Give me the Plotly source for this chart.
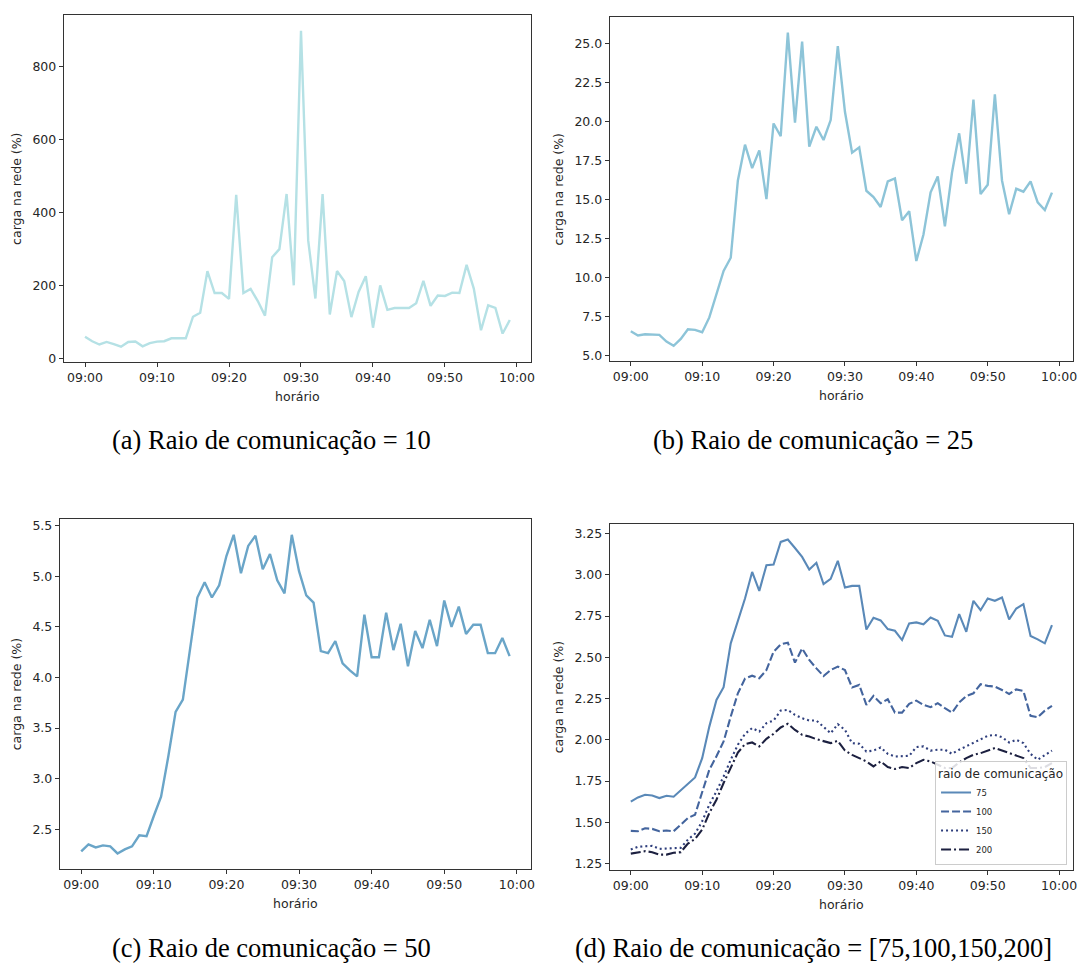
import pandas as pd
import plotly.graph_objects as go

# ---- data ----
times = pd.date_range("2021-01-01 09:00", periods=60, freq="min")

carga_r10 = [59, 47, 38, 45, 39, 32, 45, 46, 33, 42, 46, 47, 55, 56, 55, 114, 125, 239, 179, 179,
             163, 448, 179, 190, 157, 117, 277, 299, 450, 200, 897, 323, 164, 450, 120, 239, 212, 113, 182, 225,
             84, 200, 133, 138, 138, 138, 151, 212, 144, 172, 171, 180, 179, 256, 191, 77, 145, 138, 68, 105]

carga_r25 = [6.57, 6.30, 6.38, 6.36, 6.34, 5.91, 5.64, 6.08, 6.70, 6.66, 6.51, 7.46, 8.95, 10.44, 11.28, 16.23, 18.52, 17.02, 18.16, 15.04,
             19.88, 19.06, 25.70, 19.93, 25.13, 18.40, 19.67, 18.82, 20.10, 24.83, 20.63, 18.01, 18.35, 15.57, 15.17, 14.53, 16.17, 16.36, 13.68, 14.26,
             11.07, 12.77, 15.47, 16.49, 13.30, 16.74, 19.25, 16.02, 21.41, 15.36, 15.96, 21.75, 16.23, 14.07, 15.70, 15.51, 16.17, 14.83, 14.34, 15.45]

carga_r50 = [2.28, 2.35, 2.32, 2.34, 2.33, 2.26, 2.30, 2.33, 2.44, 2.43, 2.63, 2.82, 3.22, 3.66, 3.78, 4.30, 4.79, 4.94, 4.79, 4.91,
             5.20, 5.41, 5.03, 5.30, 5.40, 5.07, 5.22, 4.96, 4.83, 5.41, 5.05, 4.81, 4.74, 4.26, 4.24, 4.36, 4.14, 4.07, 4.01, 4.62,
             4.20, 4.20, 4.64, 4.27, 4.53, 4.11, 4.46, 4.29, 4.57, 4.31, 4.76, 4.50, 4.70, 4.43, 4.52, 4.52, 4.24, 4.24, 4.39, 4.21]

carga_r75 = [1.625, 1.651, 1.667, 1.663, 1.647, 1.661, 1.655, 1.694, 1.738, 1.772, 1.889, 2.080, 2.242, 2.319, 2.585, 2.726, 2.857, 3.018, 2.903, 3.058,
             3.063, 3.200, 3.214, 3.163, 3.109, 3.032, 3.073, 2.944, 2.976, 3.085, 2.923, 2.933, 2.933, 2.669, 2.740, 2.724, 2.671, 2.661, 2.605, 2.706,
             2.712, 2.700, 2.742, 2.722, 2.633, 2.625, 2.762, 2.655, 2.843, 2.786, 2.857, 2.843, 2.863, 2.730, 2.796, 2.823, 2.629, 2.609, 2.585, 2.696]

carga_r100 = [1.448, 1.446, 1.464, 1.460, 1.446, 1.450, 1.446, 1.486, 1.526, 1.546, 1.677, 1.819, 1.900, 1.990, 2.141, 2.282, 2.371, 2.389, 2.373, 2.423,
              2.534, 2.579, 2.589, 2.468, 2.554, 2.484, 2.433, 2.387, 2.423, 2.444, 2.423, 2.317, 2.333, 2.212, 2.266, 2.222, 2.246, 2.165, 2.165, 2.218,
              2.238, 2.212, 2.198, 2.222, 2.192, 2.165, 2.226, 2.266, 2.282, 2.337, 2.327, 2.323, 2.302, 2.278, 2.306, 2.296, 2.145, 2.137, 2.177, 2.206]

carga_r150 = [1.335, 1.351, 1.355, 1.357, 1.339, 1.341, 1.339, 1.345, 1.395, 1.431, 1.506, 1.607, 1.688, 1.778, 1.879, 1.970, 2.036, 2.071, 2.050, 2.101,
              2.117, 2.177, 2.181, 2.151, 2.131, 2.117, 2.117, 2.081, 2.040, 2.095, 2.060, 1.980, 1.976, 1.929, 1.935, 1.954, 1.915, 1.899, 1.899, 1.903,
              1.956, 1.960, 1.935, 1.940, 1.940, 1.915, 1.940, 1.960, 1.980, 2.000, 2.024, 2.030, 2.016, 1.984, 2.000, 1.980, 1.915, 1.879, 1.909, 1.935]

carga_r200 = [1.310, 1.319, 1.325, 1.319, 1.304, 1.304, 1.315, 1.319, 1.371, 1.399, 1.456, 1.556, 1.637, 1.738, 1.835, 1.923, 1.974, 1.984, 1.960, 2.006,
              2.036, 2.075, 2.097, 2.060, 2.030, 2.020, 2.004, 1.994, 1.980, 1.994, 1.935, 1.909, 1.889, 1.869, 1.839, 1.869, 1.835, 1.823, 1.835, 1.829,
              1.859, 1.879, 1.869, 1.849, 1.829, 1.829, 1.863, 1.889, 1.909, 1.919, 1.933, 1.950, 1.935, 1.919, 1.903, 1.889, 1.829, 1.829, 1.835, 1.859]

legend_labels = ["75", "100", "150", "200"]
captions = ["(a) Raio de comunicação = 10", "(b) Raio de comunicação = 25",
            "(c) Raio de comunicação = 50", "(d) Raio de comunicação = [75,100,150,200]"]
x_ticklabels = ["09:00", "09:10", "09:20", "09:30", "09:40", "09:50", "10:00"]

# ---- layout helpers ----
W, H = 1083, 965
def xd(a, b):
    return [a / W, b / W]
def yd(top, bottom):
    return [1 - bottom / H, 1 - top / H]

def pad_range(vals):
    lo, hi = min(vals), max(vals)
    m = 0.05 * (hi - lo)
    return [lo - m, hi + m]

t0, t1 = times[0], times[-1]
tpad = (t1 - t0) * 0.05
xrange_ = [t0 - tpad, t1 + tpad]
tickvals = pd.date_range("2021-01-01 09:00", "2021-01-01 10:00", freq="10min")

fig = go.Figure()

fig.add_trace(go.Scatter(x=times, y=carga_r10, mode="lines", line=dict(color="#b5e1e5", width=2.4),
                         xaxis="x", yaxis="y", showlegend=False))
fig.add_trace(go.Scatter(x=times, y=carga_r25, mode="lines", line=dict(color="#8dc4d8", width=2.4),
                         xaxis="x2", yaxis="y2", showlegend=False))
fig.add_trace(go.Scatter(x=times, y=carga_r50, mode="lines", line=dict(color="#6aa5c8", width=2.4),
                         xaxis="x3", yaxis="y3", showlegend=False))

d_series = [carga_r75, carga_r100, carga_r150, carga_r200]
d_colors = ["#5a89b8", "#44659e", "#2f3f7d", "#1c2040"]
d_dash = ["solid", "8px,3px", "2px,3px", "10px,3px,2px,3px"]
for s, c, dsh, lab in zip(d_series, d_colors, d_dash, legend_labels):
    fig.add_trace(go.Scatter(x=times, y=s, mode="lines", name=lab,
                             line=dict(color=c, width=2.1, dash=dsh),
                             xaxis="x4", yaxis="y4", showlegend=True))

tickfont = dict(family="DejaVu Sans", size=12.5, color="#262626")
titlefont = dict(family="DejaVu Sans", size=12.5, color="#262626")

def xaxis_cfg(dom, anchor):
    return dict(domain=dom, anchor=anchor, type="date", range=xrange_,
                tickvals=list(tickvals), ticktext=x_ticklabels,
                showgrid=False, zeroline=False, showline=True, mirror=True,
                linecolor="#333333", linewidth=1, ticks="outside", ticklen=4,
                tickcolor="#333333", tickfont=tickfont,
                title=dict(text="horário", font=titlefont, standoff=7))

def yaxis_cfg(dom, anchor, rng, dtick, fmt):
    return dict(domain=dom, anchor=anchor, range=rng, dtick=dtick, tick0=0, tickformat=fmt,
                showgrid=False, zeroline=False, showline=True, mirror=True,
                linecolor="#333333", linewidth=1, ticks="outside", ticklen=4,
                tickcolor="#333333", tickfont=tickfont,
                title=dict(text="carga na rede (%)", font=titlefont, standoff=8))

d_all = carga_r75 + carga_r100 + carga_r150 + carga_r200

fig.update_layout(
    width=W, height=H, margin=dict(l=0, r=0, t=0, b=0),
    paper_bgcolor="white", plot_bgcolor="white",
    xaxis=xaxis_cfg(xd(64, 533), "y"),
    yaxis=yaxis_cfg(yd(14, 363), "x", pad_range(carga_r10), 200, "d"),
    xaxis2=xaxis_cfg(xd(612, 1077), "y2"),
    yaxis2=yaxis_cfg(yd(16, 362), "x2", pad_range(carga_r25), 2.5, ".1f"),
    xaxis3=xaxis_cfg(xd(60, 533), "y3"),
    yaxis3=yaxis_cfg(yd(520, 872), "x3", pad_range(carga_r50), 0.5, ".1f"),
    xaxis4=xaxis_cfg(xd(612, 1077), "y4"),
    yaxis4=yaxis_cfg(yd(525, 873), "x4", pad_range(d_all), 0.25, ".2f"),
    legend=dict(x=1071 / W, xanchor="right", y=1 - 868 / H, yanchor="bottom",
                bgcolor="rgba(255,255,255,0.85)", bordercolor="#cccccc", borderwidth=1,
                font=dict(family="DejaVu Sans", size=8.5, color="#262626"),
                title=dict(text="raio de comunicação", side="top",
                           font=dict(family="DejaVu Sans", size=12, color="#262626")),
                itemwidth=30, tracegroupgap=0),
)

cap_pos = [(273, 441), (816, 441), (273, 951), (817, 951)]
for txt, (cx, cy) in zip(captions, cap_pos):
    fig.add_annotation(text=txt, x=cx / W, y=1 - cy / H, xref="paper", yref="paper",
                       xanchor="center", yanchor="middle", showarrow=False,
                       font=dict(family="Liberation Serif", size=26.5, color="black"))

fig.write_html("out.html")
